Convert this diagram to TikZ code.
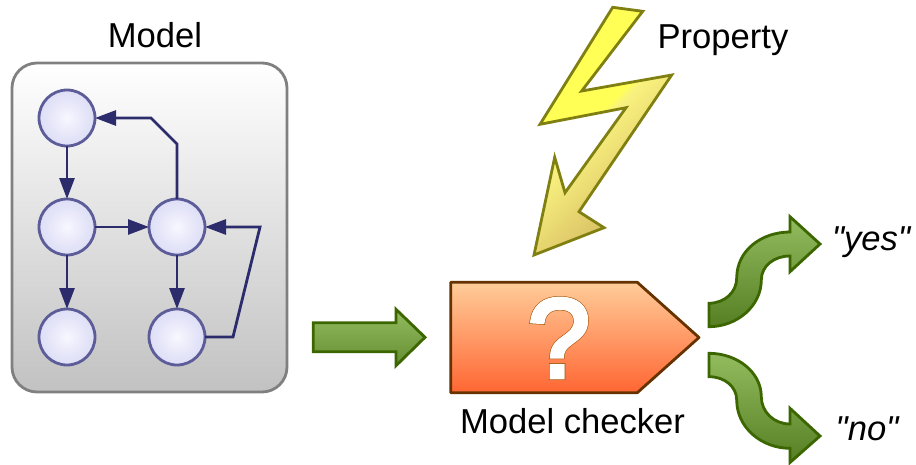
\documentclass[tikz,border=0pt]{standalone}
\usepackage{fontspec}
\newfontfamily\lblfont{Liberation Sans}
\newfontfamily\qmfont[FakeBold=5]{Liberation Sans}
\newfontfamily\qmtop[FakeBold=4]{Liberation Sans}
\usetikzlibrary{arrows.meta,shapes.geometric}
\definecolor{boltA}{HTML}{FFFF55}
\definecolor{boltB}{HTML}{F9F27F}
\definecolor{boltC}{HTML}{D4B860}
\definecolor{boltline}{HTML}{808012}
\definecolor{gline}{HTML}{3B6600}
\definecolor{gtop}{HTML}{92BC5E}
\definecolor{gbot}{HTML}{567F24}
\definecolor{nodeline}{HTML}{5C5C99}
\definecolor{edgecol}{HTML}{2C2C6C}
\definecolor{ckline}{HTML}{663300}
\definecolor{cktop}{HTML}{FFCC99}
\definecolor{ckbot}{HTML}{FF6633}
\definecolor{nodeA}{HTML}{F8F8FF}
\definecolor{nodeB}{HTML}{ECECFB}
\definecolor{nodeC}{HTML}{DDDDF6}
\pgfdeclarehorizontalshading{boltgrad}{100bp}{
color(0bp)=(boltA);
color(46bp)=(boltA);
color(48bp)=(boltB);
color(72bp)=(boltC);
color(100bp)=(boltC)}
\pgfdeclareradialshading{nodeglow}{\pgfpoint{0bp}{0bp}}{
color(0bp)=(nodeA);
color(10bp)=(nodeB);
color(25bp)=(nodeC);
color(50bp)=(nodeC)}
\tikzset{
 x=1pt,y=-1pt,
 lbl/.style={anchor=base,inner sep=0pt,font=\fontsize{34.6}{40}\lblfont,text=black},
 ilbl/.style={lbl,font=\fontsize{34.6}{40}\lblfont\itshape},
 state/.style={circle,draw=nodeline,line width=2.8pt,minimum size=56pt,inner sep=0pt,outer sep=0pt,shading=nodeglow},
 edge/.style={draw=edgecol,line width=2.8pt,-{Triangle[length=21pt,width=15pt]}},
 garrow/.style={draw=gline,line width=2.8pt,line join=miter},
}
\begin{document}
\begin{tikzpicture}
\useasboundingbox (0,0) rectangle (916,464);
% model box
\node[draw=black!50,line width=2.8pt,rounded corners=25pt,minimum width=275pt,minimum height=329pt,inner sep=0pt,outer sep=0pt,top color=white,bottom color=black!24,anchor=north west] (box) at (12,63) {};
\node[lbl] (modellabel) at (155,47) {Model};
\coordinate (k1) at (177,144);
\coordinate (k2) at (151,118);
\coordinate (k3) at (233,337);
\coordinate (k4) at (260,227);
\node[state] (a) at (67,118) {};
\node[state] (b) at (67,227) {};
\node[state] (c) at (177,227) {};
\node[state] (d) at (67,337) {};
\node[state] (e) at (177,337) {};
\draw[edge] (a.south) -- (b.north);
\draw[edge] (b.east) -- (c.west);
\draw[edge] (b.south) -- (d.north);
\draw[edge] (c.south) -- (e.north);
\draw[edge] (c.north) -- (k1) -- (k2) -- (a.east);
\draw[edge] (e.east) -- (k3) -- (k4) -- (c.east);
% straight arrow
\path[garrow,top color=gtop,bottom color=gbot!75!gtop] (313.3,322.7) -- (396,322.7) -- (396,309.3) -- (425,337.3) -- (396,365.7) -- (396,351.7) -- (313.3,351.7) -- cycle;
% bolt
\path[draw=boltline,line width=2.8pt,line join=miter,shading=boltgrad,shading angle=-45]
 (612.7,7.3) -- (642.7,11.3) -- (581.7,91) -- (671.7,75) -- (579,211.7) -- (604,227.7) -- (534,255) -- (554.7,157.3) -- (565,192.7) -- (626,107.7) -- (540,124.3) -- cycle;
\node[lbl] (property) at (723,48) {Property};
% checker
\path[draw=ckline,line width=2.8pt,line join=round,top color=cktop,bottom color=ckbot]
 (450.7,282.3) -- (637.3,282.3) -- (699,337.5) -- (637.3,392.7) -- (450.7,392.7) -- cycle;
\node[inner sep=0pt,anchor=base,text=ckline!60!orange] (qb) at (559,377) {\fontsize{112}{120}\qmfont ?};
\node[inner sep=0pt,anchor=base,text=white] (q) at (559,377) {\fontsize{112}{120}\qmtop ?};
\node[lbl] (checker) at (572.5,433) {Model checker};
% yes arrow
\path[garrow,top color=gtop,bottom color=gbot]
 (709,303.3) .. controls (725,303) and (736.7,292) .. (736.7,278) .. controls (736.7,250) and (762,232) .. (790,232)
 -- (790,216.7) -- (820,244) -- (790,271.7) -- (790,256)
 .. controls (774,256) and (761.3,266) .. (761.3,280) .. controls (761.3,306) and (737,326.7) .. (709,326.7) -- cycle;
\node[ilbl] (yes) at (871,250) {"yes"};
% no arrow
\path[garrow,top color=gtop,bottom color=gbot]
 (709,353.3) .. controls (737,353.3) and (761.3,372) .. (761.3,396.7) .. controls (761.3,412) and (774,424) .. (790,424)
 -- (790,408.3) -- (820,436) -- (790,462.5) -- (790,448.3)
 .. controls (762,448.3) and (736.7,428) .. (736.7,400) .. controls (736.7,387) and (725,376.7) .. (709,376.7) -- cycle;
\node[ilbl] (no) at (867,440) {"no"};
\end{tikzpicture}
\end{document}
